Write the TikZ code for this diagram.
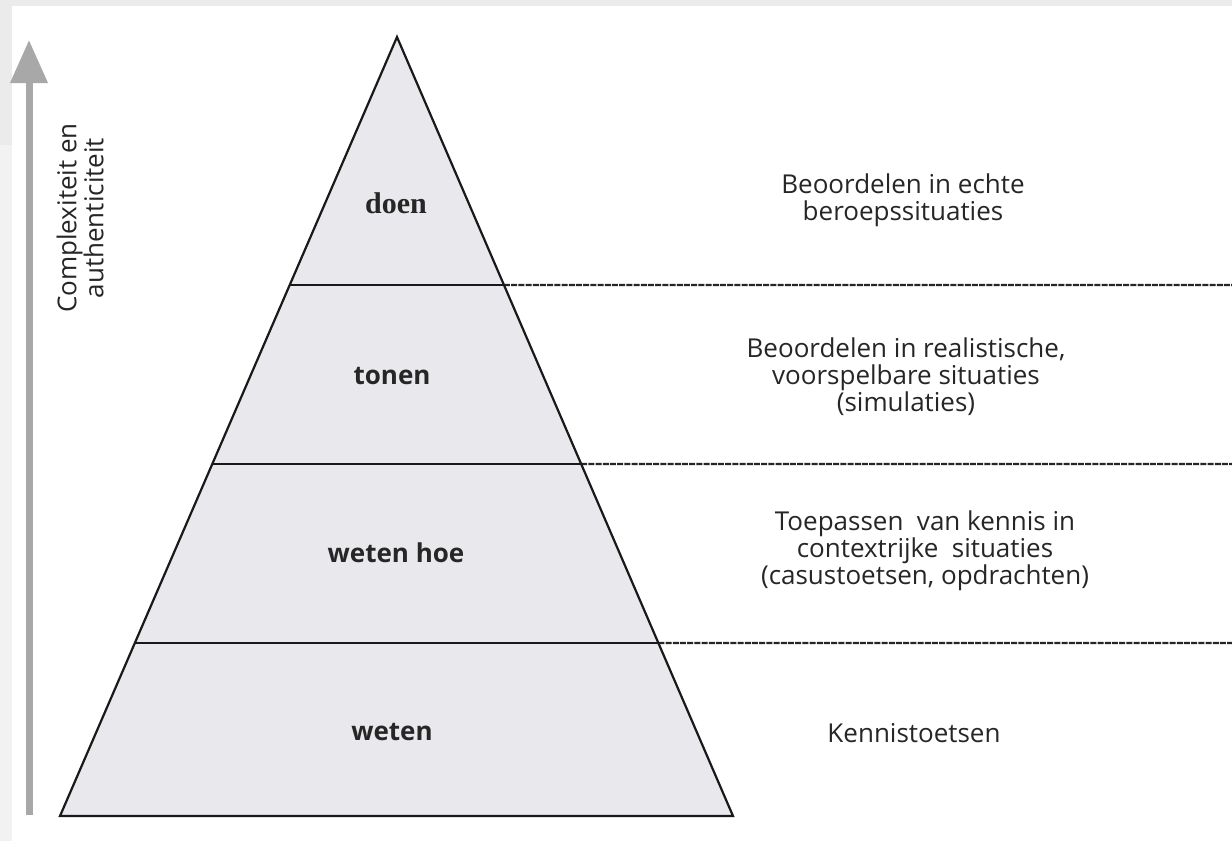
\documentclass[tikz,border=0pt]{standalone}
\usepackage{fontspec}
\setmainfont{Open Sans}
\newfontfamily\serifbold{Liberation Serif}
\usetikzlibrary{arrows.meta,calc}
\definecolor{txt}{HTML}{262626}
\definecolor{pyrfill}{HTML}{E9E9ED}
\definecolor{arrowgray}{HTML}{A8A8A8}
\definecolor{band}{HTML}{EBEBEB}
\definecolor{bandlight}{HTML}{F2F2F2}
\begin{document}
\begin{tikzpicture}[x=1pt,y=-1pt,
  levellabel/.style={font=\fontsize{26}{27}\selectfont\bfseries, text=txt, inner sep=0pt},
  desc/.style={font=\fontsize{26}{27}\selectfont, text=txt, align=center, inner sep=0pt},
  edge/.style={line width=2.2pt, draw=black!90, line join=miter},
  sepline/.style={line width=2.2pt, draw=black!85, dash pattern=on 6pt off 1.2pt},
  axisarrow/.style={line width=7pt, draw=arrowgray, -{Triangle[width=36pt,length=43pt]}}]
\useasboundingbox (0,0) rectangle (1232,841);
\fill[white] (0,0) rectangle (1232,841);
\fill[band] (0,0) rectangle (1232,6);
\fill[band] (0,0) rectangle (12,145);
\fill[bandlight] (0,145) rectangle (12,841);

% pyramid
\coordinate (apex) at (397,37);
\coordinate (bl) at (60,816);
\coordinate (br) at (733,816);
\coordinate (l1) at ($(apex)!0.3184!(bl)$);
\coordinate (r1) at ($(apex)!0.3184!(br)$);
\coordinate (l2) at ($(apex)!0.5481!(bl)$);
\coordinate (r2) at ($(apex)!0.5481!(br)$);
\coordinate (l3) at ($(apex)!0.7779!(bl)$);
\coordinate (r3) at ($(apex)!0.7779!(br)$);
\coordinate (e1) at (1232,285);
\coordinate (e2) at (1232,464);
\coordinate (e3) at (1232,643);

\fill[pyrfill] (apex) -- (bl) -- (br) -- cycle;
\draw[edge] (l1) -- (r1);
\draw[edge] (l2) -- (r2);
\draw[edge] (l3) -- (r3);
\draw[sepline] (r1) -- (e1);
\draw[sepline] (r2) -- (e2);
\draw[sepline] (r3) -- (e3);
\draw[edge] (apex) -- (bl) -- (br) -- cycle;

% level labels
\node[levellabel, font=\fontsize{30}{31}\serifbold\bfseries] (doen) at (396,203) {doen};
\node[levellabel] (tonen) at (392,376) {tonen};
\node[levellabel] (wetenhoe) at (396,553) {weten hoe};
\node[levellabel] (weten) at (392,732) {weten};

% descriptions
\node[desc] (d1) at (903,200) {Beoordelen in echte\\beroepssituaties};
\node[desc] (d2) at (906,377) {Beoordelen in realistische,\\voorspelbare situaties\\(simulaties)};
\node[desc] (d3) at (925,551) {Toepassen\ \ van kennis in\\contextrijke\ \ situaties\\(casustoetsen, opdrachten)};
\node[desc] (d4) at (914,733) {Kennistoetsen};

% axis arrow
\coordinate (abot) at (29,815);
\coordinate (atop) at (29,40);
\draw[axisarrow] (abot) -- (atop);
\node[desc, rotate=90] (axis) at (80,218) {Complexiteit en\\authenticiteit};
\end{tikzpicture}
\end{document}
